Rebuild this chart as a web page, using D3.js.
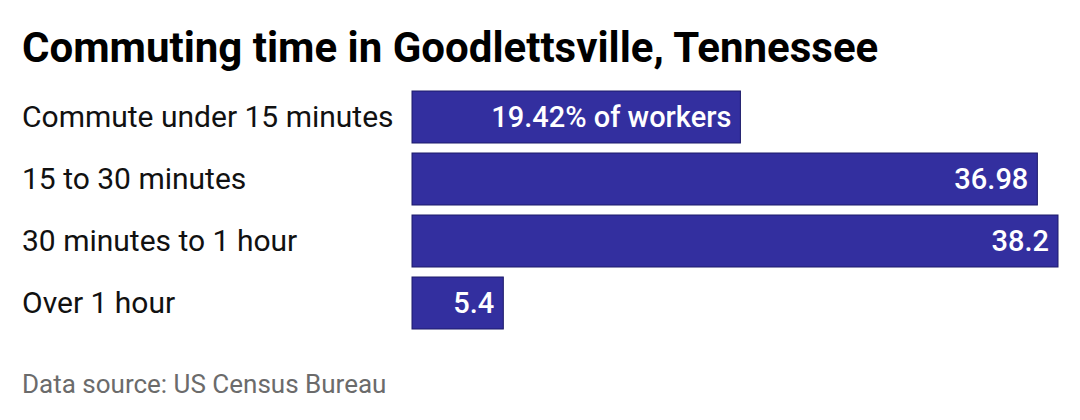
<!DOCTYPE html>
<html><head><meta charset="utf-8">
<script src="https://cdn.jsdelivr.net/npm/d3@7"></script>
<style>body{margin:0;background:#fff}</style></head>
<body><svg id="c" width="1080" height="420"></svg>
<script>
const categories=["Commute under 15 minutes","15 to 30 minutes","30 minutes to 1 hour","Over 1 hour"];
const values=[19.42,36.98,38.2,5.4];
const labels=["19.42% of workers","36.98","38.2","5.4"];
const svg=d3.select("#c");
const x=d3.scaleLinear().domain([0,38.2]).range([412,1058]);
const y=d3.scaleBand().domain(categories).range([91,329]).paddingInner(10/62).paddingOuter(0);
svg.append("text").attr("x",22).attr("y",62).attr("font-family","Roboto").attr("font-weight",700).attr("font-size",42).attr("fill","#000").text("Commuting time in Goodlettsville, Tennessee");
const g=svg.selectAll("g.r").data(categories).join("g");
g.append("rect").attr("x",x(0)).attr("y",d=>y(d)).attr("width",(d,i)=>x(values[i])-x(0)).attr("height",y.bandwidth()).attr("fill","#332f9f").attr("stroke","#1c1a6a").attr("stroke-width",1);
g.append("text").attr("x",22).attr("y",d=>y(d)+y.bandwidth()/2+10).attr("font-family","Roboto").attr("font-size",30).attr("fill","#111").text(d=>d);
g.append("text").attr("x",(d,i)=>x(values[i])-9).attr("y",d=>y(d)+y.bandwidth()/2+10).attr("text-anchor","end").attr("font-family","Roboto").attr("font-weight",500).attr("font-size",29).attr("fill","#fff").text((d,i)=>labels[i]);
svg.append("text").attr("x",22).attr("y",393).attr("font-family","Roboto").attr("font-size",26).attr("fill","#6b6b6b").text("Data source: US Census Bureau");
</script></body></html>
